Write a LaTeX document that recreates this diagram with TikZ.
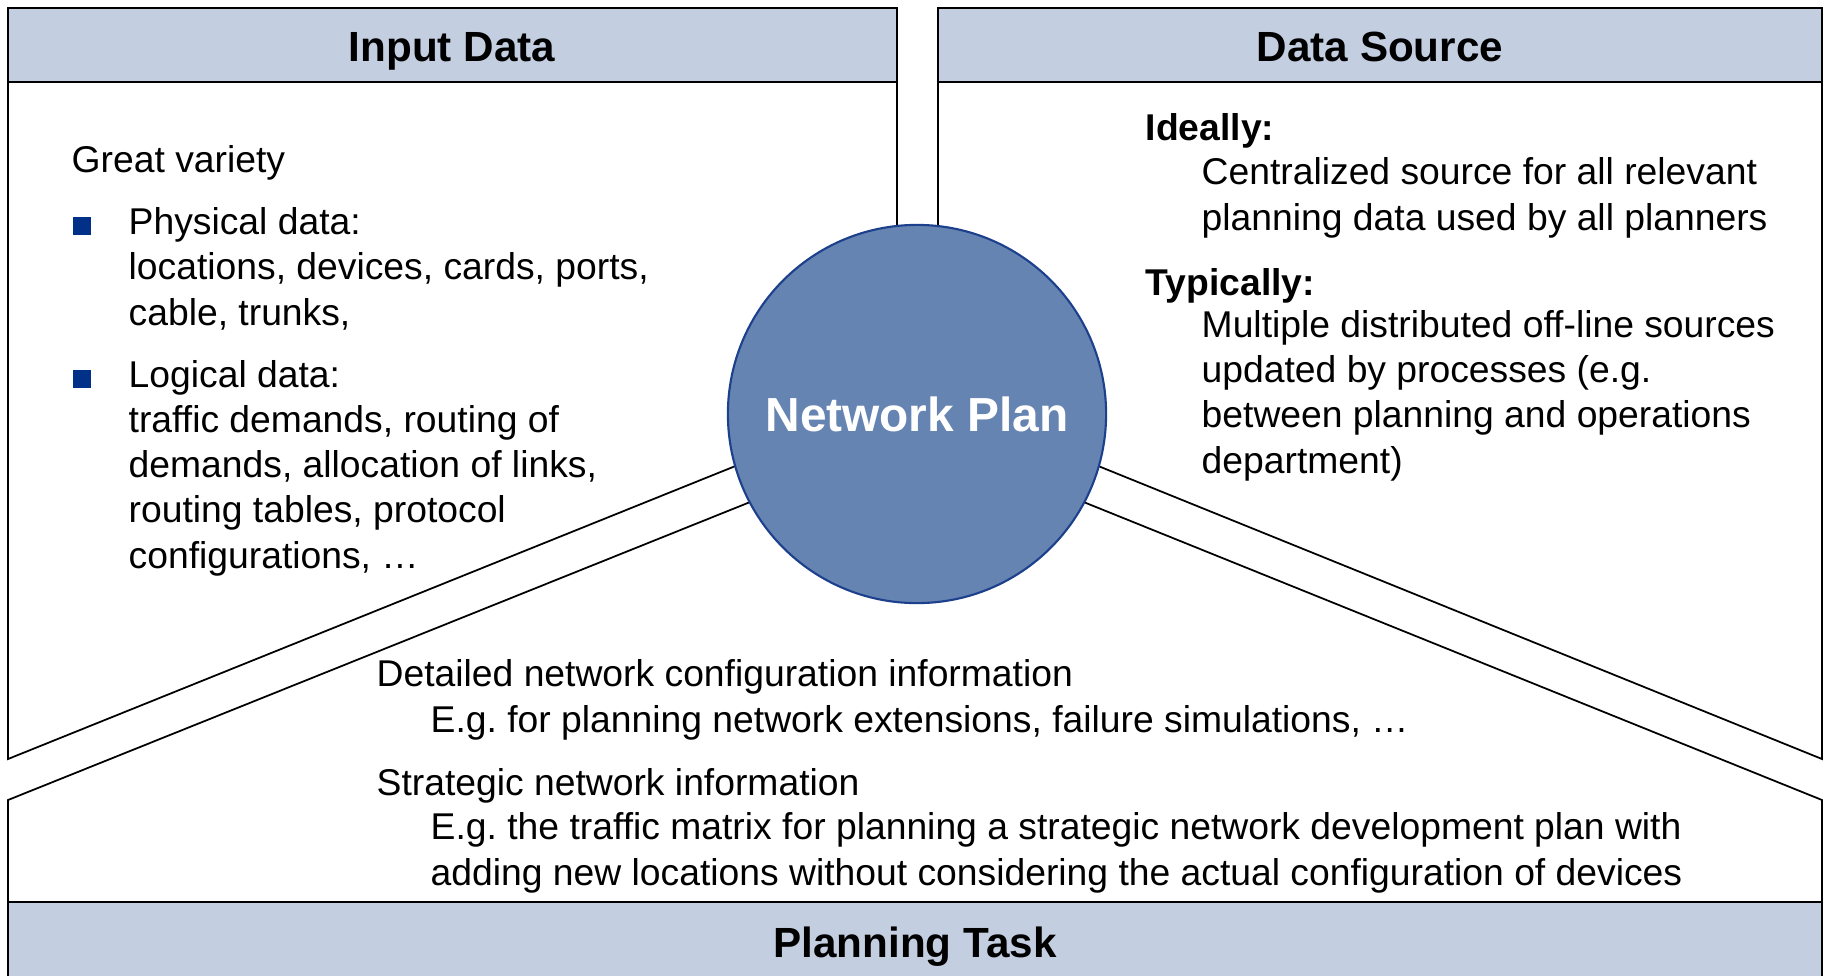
\documentclass[tikz,border=0pt]{standalone}
\usepackage{fontspec}
\setmainfont{Liberation Sans}
\usepackage{xcolor}
\usetikzlibrary{positioning}
\definecolor{headfill}{RGB}{195,206,224}
\definecolor{planfill}{RGB}{102,132,178}
\definecolor{planedge}{RGB}{28,64,140}
\definecolor{bulletblue}{RGB}{0,48,135}

\begin{document}
\begin{tikzpicture}[x=0.01cm,y=-0.01cm,
    panel/.style={draw=black,line width=0.5pt,fill=white},
    headbar/.style={draw=black,line width=0.8pt,fill=headfill},
    headtext/.style={font=\fontsize{12}{14}\selectfont\bfseries,anchor=base,inner sep=0pt},
    body/.style={font=\fontsize{10.6}{12.85}\selectfont,align=left,anchor=base west,inner sep=0pt},
    bodybold/.style={body,font=\fontsize{10.6}{12.85}\selectfont\bfseries},
    sqbullet/.style={fill=bulletblue,minimum size=0.18cm,inner sep=0pt}]
    \useasboundingbox (0,0) rectangle (1827,975);
    \clip (0,0) rectangle (1827,975);
    % the three panels round the plan
    \draw[panel] (8,8) -- (897,8) -- (897,414) -- (800,440) -- (8,759) -- cycle;
    \draw[panel] (938,8) -- (1822,8) -- (1822,759) -- (1034,440) -- (938,414) -- cycle;
    \draw[panel] (8,990) -- (8,800) -- (800,482) -- (1034,482) -- (1822,800) -- (1822,990);
    \draw[headbar] (8,8) rectangle (897,82);
    \draw[headbar] (938,8) rectangle (1822,82);
    \draw[headbar] (8,902) rectangle (1822,990);
    \node[headtext] (inhead) at (452,61) {Input Data};
    \node[headtext] (srchead) at (1380,61) {Data Source};
    \node[headtext] (taskhead) at (915,957) {Planning Task};
    \node[circle,draw=planedge,line width=0.6pt,fill=planfill,minimum size=3.78cm,
      text=white,font=\fontsize{13.6}{16}\selectfont\bfseries] (plan) at (917,414) {Network Plan};
    % input data (multi-line nodes sit on their last baseline)
    \node[body] (variety) at (71,172) {Great variety};
    \node[sqbullet] (phybul) at (82,226) {};
    \node[body] (phys) at (128,325)
      {Physical data:\\locations, devices, cards, ports,\\cable, trunks,};
    \node[sqbullet] (logbul) at (82,379) {};
    \node[body] (logic) at (128,568)
      {Logical data:\\traffic demands, routing of\\demands, allocation of links,\\routing tables, protocol\\configurations, …};
    % data source
    \node[bodybold] (ideal) at (1145,140) {Ideally:};
    \node[body] (central) at (1201,230)
      {Centralized source for all relevant\\planning data used by all planners};
    \node[bodybold] (typical) at (1145,295) {Typically:};
    \node[body] (multi) at (1201,473)
      {Multiple distributed off-line sources\\updated by processes (e.g.\\between planning and operations\\department)};
    % planning task
    \node[body] (detail) at (376,686) {Detailed network configuration information};
    \node[body] (detaileg) at (430,732) {E.g.\ for planning network extensions, failure simulations, …};
    \node[body] (strat) at (376,795) {Strategic network information};
    \node[body] (strateg) at (430,885)
      {E.g.\ the traffic matrix for planning a strategic network development plan with\\adding new locations without considering the actual configuration of devices};
\end{tikzpicture}
\end{document}
